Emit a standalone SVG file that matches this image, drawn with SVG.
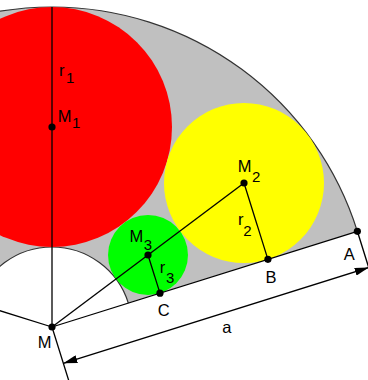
<svg xmlns="http://www.w3.org/2000/svg" width="368" height="380" viewBox="0 0 368 380">
<style>
.ln{stroke:#000;stroke-width:1.3;fill:none}
.arc{stroke:#333;stroke-width:1.2;fill:none}
.dot{fill:#000}
text{font-family:"Liberation Sans",Arial,sans-serif;font-size:16.5px;fill:#000}
.sub{font-size:15px}
</style>
<defs>
<marker id="ah" viewBox="0 0 14 8" refX="14" refY="4" markerWidth="14" markerHeight="8" markerUnits="userSpaceOnUse" orient="auto-start-reverse">
<path d="M0,0 L14,4 L0,8 Z" fill="#000"/>
</marker>
</defs>
<rect width="368" height="380" fill="#fff"/>
<g id="sector">
<path d="M357.36,231.31 A320,320 0 0 0 -253.36,231.31 L-24.34,303.08 A80,80 0 0 1 128.34,303.08 Z" fill="#c0c0c0"/>
<path class="arc" d="M357.36,231.31 A320,320 0 0 0 -253.36,231.31"/>
<path class="arc" d="M-24.34,303.08 A80,80 0 0 1 128.34,303.08"/>
</g>
<g id="circle1"><circle cx="52" cy="127" r="120" fill="#ff0000"/></g>
<g id="circle2"><circle cx="244" cy="183" r="80" fill="#ffff00"/></g>
<g id="circle3"><circle cx="148" cy="255" r="40" fill="#00ff00"/></g>
<g id="connectors">
<line class="ln" x1="52" y1="327" x2="357.36" y2="231.31"/>
<line class="ln" x1="52" y1="327" x2="-253.36" y2="231.31"/>
<line class="ln" x1="52" y1="327" x2="52" y2="7"/>
<line class="ln" x1="52" y1="327" x2="244" y2="183"/>
<line class="ln" x1="244" y1="183" x2="267.92" y2="259.34"/>
<line class="ln" x1="148" y1="255" x2="159.96" y2="293.17"/>
<line class="ln" x1="52" y1="327" x2="69" y2="381.4"/>
<line class="ln" x1="357.36" y1="231.31" x2="372" y2="278"/>
<line class="ln" x1="63.36" y1="363.26" x2="368.72" y2="267.57" marker-start="url(#ah)" marker-end="url(#ah)"/>
</g>
<g id="points">
<circle class="dot" cx="52" cy="327" r="3.6"/>
<circle class="dot" cx="52" cy="127" r="3.6"/>
<circle class="dot" cx="244" cy="183" r="3.6"/>
<circle class="dot" cx="148" cy="255" r="3.6"/>
<circle class="dot" cx="357.36" cy="231.31" r="3.6"/>
<circle class="dot" cx="267.92" cy="259.34" r="3.6"/>
<circle class="dot" cx="159.96" cy="293.17" r="3.6"/>
</g>
<g id="labels">
<text x="59" y="75.7">r</text><text class="sub" x="66" y="83">1</text>
<text x="57.8" y="121.7">M</text><text class="sub" x="72" y="128.3">1</text>
<text x="237.8" y="172.3">M</text><text class="sub" x="252" y="181.5">2</text>
<text x="238" y="225">r</text><text class="sub" x="243.3" y="236">2</text>
<text x="129.5" y="242.3">M</text><text class="sub" x="143.8" y="250">3</text>
<text x="159.7" y="273.3">r</text><text class="sub" x="166" y="282.7">3</text>
<text x="157.8" y="315.7">C</text>
<text x="265.6" y="283.3">B</text>
<text x="343.8" y="260">A</text>
<text x="37.8" y="348.3">M</text>
<text x="222.3" y="333.3">a</text>
</g>
</svg>
